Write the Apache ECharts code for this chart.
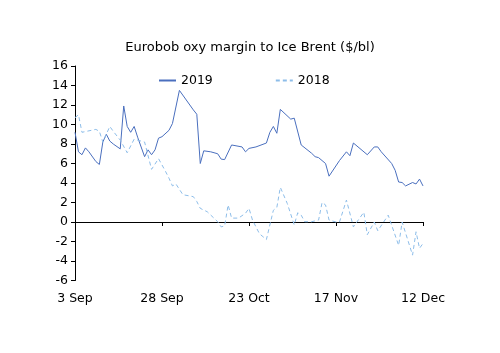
<!DOCTYPE html>
<html>
<head>
<meta charset="utf-8">
<script src="https://cdn.jsdelivr.net/npm/echarts@6/dist/echarts.min.js"></script>
<style>html,body{margin:0;padding:0;background:#fff}#c{width:500px;height:353px}</style>
</head>
<body>
<div id="c"></div>
<script>
// Season dates (MM-DD) and values, $/bl
const dates2019 = ['09-03','09-04','09-05','09-06','09-07','09-09','09-10','09-11','09-12','09-13','09-14','09-16','09-17','09-18','09-19','09-20','09-21','09-23','09-24','09-25','09-26','09-27','09-28','09-30','10-01','10-03','10-07','10-08','10-09','10-10','10-12','10-14','10-15','10-16','10-18','10-21','10-22','10-23','10-25','10-28','10-29','10-30','10-31','11-01','11-04','11-05','11-07','11-10','11-11','11-12','11-14','11-15','11-18','11-20','11-21','11-22','11-26','11-28','11-29','11-30','12-03','12-04','12-05','12-06','12-07','12-09','12-10','12-11','12-12'];
const values2019 = [9.2,7.2,6.9,7.6,7.2,6.2,5.9,8.2,9.0,8.3,8.0,7.5,11.9,9.8,9.2,9.8,8.7,6.7,7.4,6.9,7.4,8.6,8.75,9.4,10.1,13.5,11.5,11.05,6.0,7.3,7.2,7.0,6.45,6.4,7.9,7.7,7.2,7.55,7.7,8.1,9.2,9.8,9.1,11.55,10.55,10.65,7.9,7.05,6.7,6.6,6.0,4.7,6.3,7.2,6.8,8.1,6.9,7.7,7.7,7.2,6.0,5.3,4.1,4.05,3.7,4.05,3.9,4.4,3.7];
const dates2018 = ['09-03','09-04','09-05','09-09','09-10','09-11','09-13','09-14','09-16','09-18','09-20','09-21','09-23','09-25','09-27','09-29','09-30','10-01','10-02','10-04','10-07','10-08','10-09','10-11','10-14','10-15','10-16','10-17','10-18','10-20','10-22','10-23','10-24','10-26','10-27','10-28','10-30','10-31','11-01','11-03','11-05','11-06','11-07','11-08','11-10','11-12','11-13','11-14','11-15','11-17','11-18','11-20','11-22','11-25','11-26','11-28','11-29','12-02','12-05','12-06','12-09','12-10','12-11','12-12'];
const values2018 = [10.7,11.0,9.2,9.5,9.3,8.2,9.8,9.3,8.4,7.1,8.5,8.4,8.2,5.4,6.5,5.2,4.5,3.7,3.9,2.8,2.6,2.1,1.4,1.05,0.03,-0.5,-0.4,1.75,0.4,0.4,0.9,1.4,0.2,-1.2,-1.5,-1.8,1.2,1.5,3.55,1.9,-0.3,0.95,0.7,0.03,0.03,0.2,2.0,1.75,0.2,0,0,2.25,-0.5,1.0,-1.3,0,-0.9,0.7,-2.4,0,-3.4,-1.0,-2.7,-2.2];
const tickLabels = ['3 Sep','28 Sep','23 Oct','17 Nov','12 Dec'];
const yMin = -6, yMax = 16, yStep = 2;

const origin = Date.UTC(2019, 8, 3);
function dayOf(md) {
  const [m, d] = md.split('-').map(Number);
  return Math.round((Date.UTC(2019, m - 1, d) - origin) / 86400000);
}
const pts = (ds, vs) => ds.map((d, i) => [dayOf(d), vs[i]]);
const span = dayOf('12-12');
const step = span / (tickLabels.length - 1);

const chart = echarts.init(document.getElementById('c'));
const font = 'DejaVu Sans';
chart.setOption({
  animation: false,
  title: {
    text: 'Eurobob oxy margin to Ice Brent ($/bl)',
    left: 'center', top: 36,
    textStyle: { fontFamily: font, fontSize: 13, fontWeight: 'normal', color: '#000' }
  },
  legend: {
    left: 153, top: 69, itemWidth: 17, itemHeight: 10, itemGap: 62,
    itemStyle: { opacity: 0 },
    textStyle: { fontFamily: font, fontSize: 12.5, color: '#000' },
    data: ['2019', '2018']
  },
  grid: { left: 75, right: 77, top: 66, bottom: 72.5, containLabel: false },
  xAxis: [{
    type: 'value', min: 0, max: span, interval: step,
    axisLine: { onZero: true, lineStyle: { color: '#000', width: 1 } },
    axisTick: { show: true, inside: false, length: 4, lineStyle: { color: '#000' } },
    axisLabel: { show: false },
    splitLine: { show: false }
  }, {
    type: 'value', min: 0, max: span, interval: step, position: 'bottom',
    axisLine: { show: false, onZero: false }, axisTick: { show: false },
    splitLine: { show: false },
    axisLabel: {
      show: true, margin: 12, color: '#000', fontFamily: font, fontSize: 12.5,
      formatter: v => tickLabels[Math.round(v / step)]
    }
  }],
  yAxis: {
    type: 'value', min: yMin, max: yMax, interval: yStep,
    axisLine: { show: true, lineStyle: { color: '#000' } },
    axisTick: { show: true, length: 4, lineStyle: { color: '#000' } },
    axisLabel: { color: '#000', fontFamily: font, fontSize: 12.5, margin: 7 },
    splitLine: { show: false }
  },
  series: [{
    name: '2019', type: 'line', xAxisIndex: 0, data: pts(dates2019, values2019),
    symbol: 'none', lineStyle: { color: '#4a6fbe', width: 1 }, itemStyle: { color: '#4a6fbe' }
  }, {
    name: '2018', type: 'line', xAxisIndex: 0, data: pts(dates2018, values2018),
    symbol: 'none', lineStyle: { color: '#8dbde9', width: 1, type: [4, 3] }, itemStyle: { color: '#8dbde9' }
  }]
});
</script>
</body>
</html>
